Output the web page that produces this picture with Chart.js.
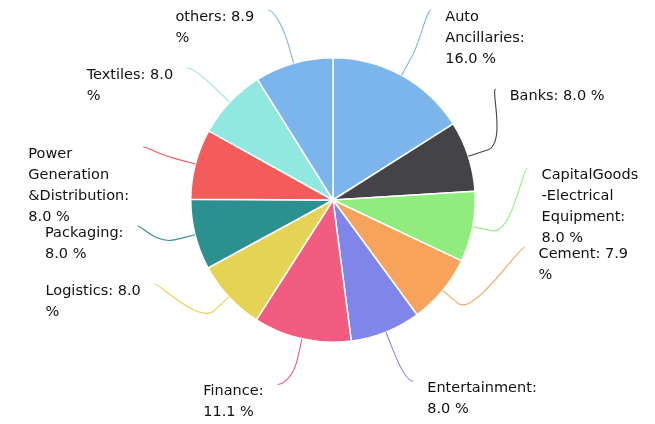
<!DOCTYPE html>
<html>
<head>
<meta charset="utf-8">
<title>Sector weights</title>
<script src="https://cdn.jsdelivr.net/npm/chart.js@4.4.1/dist/chart.umd.min.js"></script>
<style>
  html, body { margin: 0; padding: 0; background: #ffffff; }
  #wrap { position: relative; width: 655px; height: 424px; }
</style>
</head>
<body>
<div id="wrap"><canvas id="sectorPie"></canvas></div>
<script>
// sector split of the portfolio, in percent
const sectors = ['Auto Ancillaries', 'Banks', 'CapitalGoods-Electrical Equipment', 'Cement', 'Entertainment',
                 'Finance', 'Logistics', 'Packaging', 'Power Generation &Distribution', 'Textiles', 'others'];
const weights = [16.0, 8.0, 8.0, 7.9, 8.0, 11.1, 8.0, 8.0, 8.0, 8.0, 8.9];
const sectorColors = ['#7cb5ec', '#434348', '#90ed7d', '#f7a35c', '#8085e9',
                      '#f15c80', '#e4d354', '#2b908f', '#f45b5b', '#91e8e1', '#7cb5ec'];

// split on spaces, and before a hyphen so "A-B" can break as "A" / "-B"
function tokenize(text) {
    const out = [];
    text.split(' ').forEach((word, wi) => {
        word.split(/(?=-)/).forEach((part, pi) => {
            out.push({ text: part, gap: wi > 0 && pi === 0 });
        });
    });
    return out;
}

function wrapLabel(ctx, text, maxWidth) {
    const lines = [];
    let line = '';
    tokenize(text).forEach(tok => {
        const trial = line ? line + (tok.gap ? ' ' : '') + tok.text : tok.text;
        if (line && ctx.measureText(trial).width > maxWidth) {
            lines.push(line);
            line = tok.text;
        } else {
            line = trial;
        }
    });
    if (line) lines.push(line);
    return lines;
}

// outside labels: a column per side, stacked from the top,
// the lowest one slides down toward its own slice
const sliceLabels = {
    id: 'sliceLabels',
    afterDatasetsDraw(chart, args, opts) {
        const ctx = chart.ctx;
        const meta = chart.getDatasetMeta(0);
        ctx.save();
        ctx.font = opts.font;
        const left = [], right = [];
        meta.data.forEach((arc, i) => {
            const p = arc.getProps(['x', 'y', 'startAngle', 'endAngle', 'outerRadius'], true);
            const mid = (p.startAngle + p.endAngle) / 2;
            const cos = Math.cos(mid), sin = Math.sin(mid);
            const R = p.outerRadius + opts.distance;
            const text = sectors[i] + ': ' + weights[i].toFixed(1) + ' %';
            const item = {
                i,
                lines: wrapLabel(ctx, text, opts.wrapWidth),
                slots: wrapLabel(ctx, text, opts.slotWidth).length,
                dir: cos >= 0 ? 1 : -1,
                cx: p.x, cy: p.y, R,
                touch: { x: p.x + cos * p.outerRadius, y: p.y + sin * p.outerRadius },
                bend: { x: p.x + cos * (p.outerRadius + opts.bend), y: p.y + sin * (p.outerRadius + opts.bend) },
                target: p.y + sin * R
            };
            (item.dir > 0 ? right : left).push(item);
        });

        [left, right].forEach(side => {
            side.sort((a, b) => a.target - b.target);
            side.forEach((it, k) => {
                if (k === 0) {
                    it.ay = opts.top;
                    return;
                }
                const prev = side[k - 1];
                it.ay = prev.ay + (prev.slots + it.slots) / 2 * opts.lineHeight + opts.slotPad;
                if (k === side.length - 1) {
                    const lowest = chart.height - it.slots * opts.lineHeight / 2 - opts.slotPad / 2;
                    it.ay = Math.max(it.ay, Math.min(it.target, lowest));
                }
            });
        });

        left.concat(right).forEach(it => {
            const ay = it.ay;
            const dy = ay - it.cy;
            let ax = it.cx + it.dir * Math.sqrt(Math.max(it.R * it.R - dy * dy, 0));
            // near the top and bottom the circle closes in, hang the end just past the bend
            if (Math.abs(dy) > it.R * 0.9) {
                ax = it.bend.x + it.dir * opts.minReach;
            }

            // soft connector: label end -> bend point -> slice edge
            ctx.beginPath();
            ctx.moveTo(ax + it.dir * 2, ay);
            ctx.bezierCurveTo(ax - it.dir * 3, ay,
                2 * it.bend.x - it.touch.x, 2 * it.bend.y - it.touch.y,
                it.bend.x, it.bend.y);
            ctx.lineTo(it.touch.x, it.touch.y);
            ctx.strokeStyle = sectorColors[it.i];
            ctx.lineWidth = 1.1;
            ctx.stroke();

            const blockW = Math.max(...it.lines.map(l => ctx.measureText(l).width));
            const x0 = it.dir > 0 ? ax + opts.gap : ax - opts.gap - blockW;
            ctx.fillStyle = opts.color;
            ctx.textAlign = 'left';
            ctx.textBaseline = 'alphabetic';
            it.lines.forEach((l, k) => {
                ctx.fillText(l, x0, ay + 10.5 + k * opts.lineHeight);
            });
        });
        ctx.restore();
    }
};

const pieCtx = document.getElementById('sectorPie').getContext('2d');

const sectorPie = new Chart(pieCtx, {
    type: 'pie',
    data: {
        labels: sectors,
        datasets: [{
            data: weights,
            backgroundColor: sectorColors,
            borderColor: '#ffffff',
            borderWidth: 1.5
        }]
    },
    options: {
        responsive: true,
        maintainAspectRatio: false,
        animation: false,
        layout: {
            padding: { top: 57, bottom: 81, left: 190, right: 179 }
        },
        plugins: {
            legend: { display: false },
            tooltip: { enabled: false },
            sliceLabels: {
                font: '14.5px "DejaVu Sans"',
                color: '#111111',
                wrapWidth: 96.8,
                slotWidth: 46.5,
                lineHeight: 21,
                slotPad: 16,
                top: 10,
                distance: 53,
                bend: 20,
                minReach: 18,
                gap: 16
            }
        }
    },
    plugins: [sliceLabels]
});
</script>
</body>
</html>
